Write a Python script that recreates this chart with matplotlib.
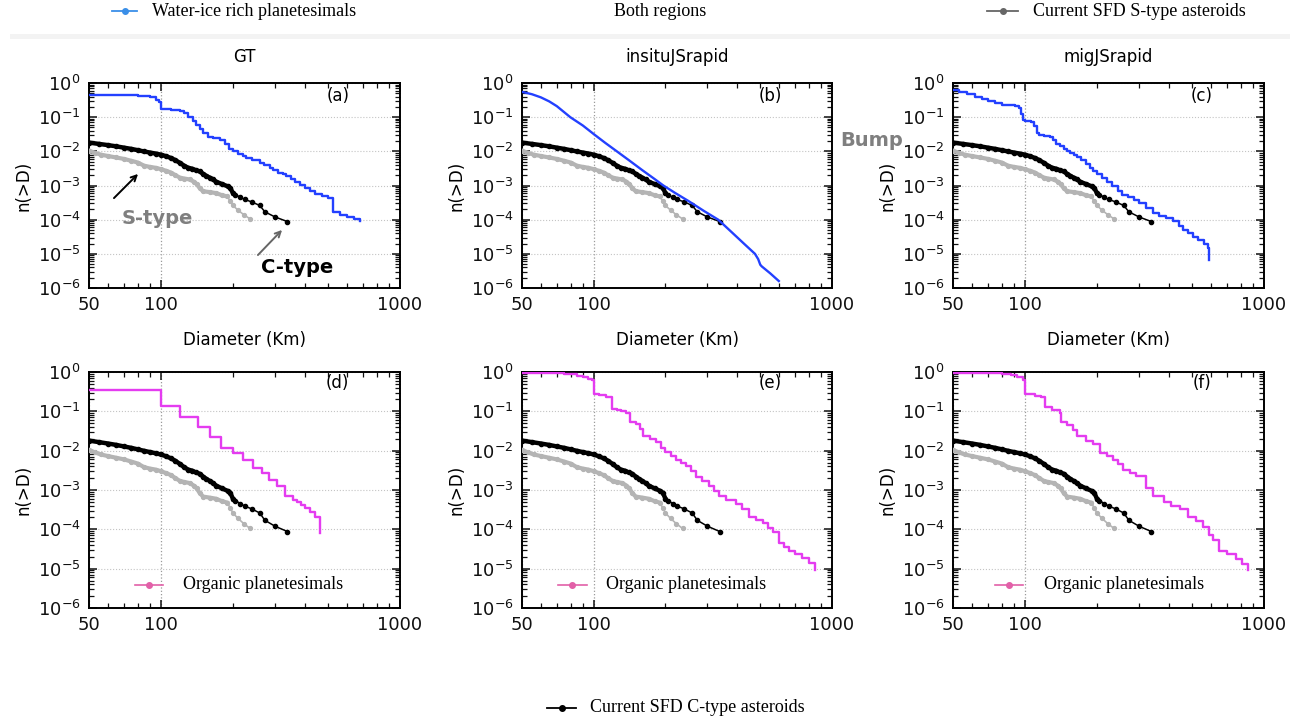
import numpy as np
import matplotlib.pyplot as plt
from matplotlib.lines import Line2D
from matplotlib.patches import Rectangle
from matplotlib.ticker import FixedLocator, FuncFormatter, NullFormatter, LogLocator

# ---- data ----
# Current SFD of C-type asteroids (same in every panel)
c_diam = [50, 55, 60, 65, 70, 75, 80, 85, 90, 95, 100, 105, 110, 115, 120, 125, 130, 135,
          140, 145, 150, 155, 160, 165, 170, 180, 190, 195, 200, 205, 215, 224, 240, 259,
          272, 300, 338]
c_n = [0.0180, 0.0165, 0.0152, 0.0140, 0.0128, 0.0118, 0.0108, 0.0099, 0.0092, 0.0086,
       0.0080, 0.0072, 0.0064, 0.0055, 0.0046, 0.0038, 0.0033, 0.0031, 0.0028, 0.0026,
       0.0022, 0.0019, 0.0017, 0.0015, 0.0013, 0.0011, 0.00095, 0.00085, 0.00060, 0.00054,
       0.00045, 0.00039, 0.00033, 0.00026, 0.00017, 0.00012, 0.000088]

# Current SFD of S-type asteroids
s_diam = [50, 53, 56, 60, 65, 70, 75, 80, 85, 90, 95, 100, 105, 110, 115, 120, 125, 132,
          137, 141, 145, 150, 160, 170, 180, 189, 195, 200, 210, 222, 236]
s_n = [0.0105, 0.0090, 0.0080, 0.0073, 0.0066, 0.0060, 0.0053, 0.0047, 0.0038, 0.0035,
       0.0033, 0.0030, 0.0027, 0.0024, 0.0020, 0.0017, 0.0016, 0.0015, 0.0013, 0.0011,
       0.00085, 0.00068, 0.00064, 0.00060, 0.00052, 0.00048, 0.00035, 0.00026, 0.00019,
       0.00014, 0.000105]

# water-ice rich planetesimals (top row)
gt_ice_diam = [50, 60, 70, 80, 86, 90, 95, 98, 100, 110, 120, 125, 130, 136, 140, 145, 150,
               157, 165, 176, 185, 193, 200, 210, 220, 227, 240, 259, 270, 285, 295, 310,
               325, 335, 350, 365, 380, 400, 420, 440, 470, 500, 526, 560, 600, 640, 681]
gt_ice_n = [0.46, 0.45, 0.44, 0.43, 0.41, 0.38, 0.32, 0.28, 0.17, 0.16, 0.15, 0.13, 0.10,
            0.076, 0.06, 0.045, 0.035, 0.026, 0.024, 0.021, 0.016, 0.012, 0.0105, 0.0085,
            0.0072, 0.0063, 0.0055, 0.0046, 0.0039, 0.0032, 0.0029, 0.0024, 0.0021, 0.0019,
            0.0016, 0.0013, 0.00105, 0.00085, 0.0007, 0.00058, 0.00050, 0.00043, 0.00017,
            0.00014, 0.00012, 0.000105, 0.000092]

insitu_ice_diam = [50, 55, 60, 65, 70, 79.7, 90, 100, 112, 125, 140, 160, 180, 196, 220,
                   250, 290, 333, 380, 430, 475, 490, 500, 507, 550, 598]
insitu_ice_n = [0.55, 0.47, 0.38, 0.29, 0.21, 0.10, 0.057, 0.032, 0.0175, 0.010, 0.0056,
                0.0028, 0.00155, 0.0010, 0.00060, 0.00035, 0.00018, 0.0001, 0.0000425,
                0.000019, 0.00001, 0.000007, 0.0000048, 0.0000043, 0.0000027, 0.0000016]

mig_ice_diam = [50, 53, 57, 62, 66, 70, 75, 80, 85, 91, 94, 96, 98, 100, 106, 109, 112, 115,
                120, 127, 131, 135, 140, 145, 150, 155, 160, 165, 172, 180, 187, 193, 200,
                210, 220, 232, 245, 255, 270, 285, 300, 320, 344, 365, 390, 417, 440, 460,
                480, 506, 530, 560, 585, 590]
mig_ice_n = [0.62, 0.55, 0.48, 0.40, 0.33, 0.30, 0.26, 0.23, 0.22, 0.21, 0.19, 0.12, 0.085,
             0.078, 0.072, 0.055, 0.035, 0.030, 0.029, 0.027, 0.021, 0.016, 0.014, 0.012,
             0.010, 0.0090, 0.0078, 0.0066, 0.0055, 0.0042, 0.0032, 0.0026, 0.0022, 0.0017,
             0.0013, 0.00095, 0.00068, 0.00054, 0.00045, 0.00037, 0.00030, 0.00022, 0.00016,
             0.00013, 0.00011, 0.000089, 0.000065, 0.00005, 0.00004, 0.000032, 0.000025,
             0.000019, 0.0000148, 0.0000067]

# organic planetesimals (bottom row)
gt_org_diam = [50, 100, 120, 143, 160, 178, 200, 220, 243, 264, 282, 305, 330, 358, 370,
               385, 400, 420, 440, 463, 463]
gt_org_n = [0.35, 0.14, 0.073, 0.039, 0.022, 0.012, 0.0087, 0.0059, 0.0036, 0.0027, 0.0018,
            0.00125, 0.0007, 0.00055, 0.0005, 0.00042, 0.00035, 0.00027, 0.0002, 0.000155,
            0.00008]

insitu_org_diam = [50, 65, 75, 85, 90, 95, 98, 100, 105, 113, 119, 125, 130, 137, 142, 151,
                   156, 161, 172, 183, 192, 200, 210, 221, 232, 243, 255, 269, 285, 306, 320,
                   337, 360, 395, 420, 450, 480, 512, 540, 563, 600, 630, 662, 700, 750, 800,
                   852]
insitu_org_n = [0.95, 0.92, 0.87, 0.80, 0.74, 0.68, 0.62, 0.28, 0.26, 0.23, 0.118, 0.11,
                0.10, 0.089, 0.055, 0.048, 0.035, 0.023, 0.020, 0.017, 0.012, 0.0095, 0.0075,
                0.0059, 0.0048, 0.0040, 0.0030, 0.0022, 0.0017, 0.00125, 0.00095, 0.0007,
                0.00055, 0.00043, 0.00032, 0.0002, 0.00017, 0.000148, 0.00011, 0.000086,
                0.000046, 0.000035, 0.000028, 0.000024, 0.000019, 0.000014, 0.0000095]

mig_org_diam = [50, 65, 80, 87, 93, 98, 100, 110, 117, 121, 130, 140, 142, 150, 159, 165,
                180, 193, 207, 220, 233, 245, 257, 275, 292, 322, 343, 380, 410, 444, 480,
                520, 558, 590, 612, 648, 700, 760, 810, 857]
mig_org_n = [0.95, 0.92, 0.88, 0.85, 0.75, 0.62, 0.28, 0.25, 0.23, 0.13, 0.11, 0.089,
             0.055, 0.045, 0.033, 0.023, 0.018, 0.015, 0.0088, 0.0072, 0.0059, 0.0045,
             0.0033, 0.0027, 0.0023, 0.00115, 0.0007, 0.00050, 0.00040, 0.00032, 0.00021,
             0.00016, 0.000115, 0.00007, 0.000054, 0.000028, 0.000023, 0.000018, 0.000013,
             0.000009]

titles = ["GT", "insituJSrapid", "migJSrapid"]
top_tags = ["(a)", "(b)", "(c)"]
bottom_tags = ["(d)", "(e)", "(f)"]

ICE = '#2340ff'
ORG = '#e43cf0'
SERIF = 'Liberation Serif'

W, H = 1307, 724
fig = plt.figure(figsize=(W / 100, H / 100), dpi=100)


def px_rect(left, top, right, bottom):
    return [left / W, 1 - bottom / H, (right - left) / W, (bottom - top) / H]


def style_axes(ax, tag, tag_y):
    ax.set_xscale('log')
    ax.set_yscale('log')
    ax.set_xlim(50, 1000)
    ax.set_ylim(1e-6, 1)
    ax.xaxis.set_major_locator(FixedLocator([50, 100, 1000]))
    ax.xaxis.set_minor_locator(FixedLocator([60, 70, 80, 90, 200, 300, 400, 500, 600, 700, 800, 900]))
    ax.xaxis.set_major_formatter(FuncFormatter(lambda v, p: f"{v:g}"))
    ax.xaxis.set_minor_formatter(NullFormatter())
    ax.yaxis.set_major_locator(LogLocator(base=10, numticks=10))
    ax.yaxis.set_minor_locator(LogLocator(base=10, subs=np.arange(2, 10), numticks=20))
    ax.yaxis.set_minor_formatter(NullFormatter())
    ax.tick_params(which='both', direction='in', top=True, right=True, colors='#111111',
                   labelsize=13)
    ax.tick_params(which='major', length=6, width=1.1, pad=6)
    ax.tick_params(which='minor', length=3.5, width=0.9)
    for s in ax.spines.values():
        s.set_linewidth(1.4)
    ax.grid(True, axis='y', which='major', ls=':', lw=0.8, color='#c4c4c4')
    ax.grid(True, axis='x', which='major', ls=':', lw=0.9, color='#9a9a9a')
    ax.set_ylabel('n(>D)', fontsize=12, labelpad=4)
    ax.text(0.80, tag_y, tag, transform=ax.transAxes, ha='center', va='center', fontsize=12)


c_d, c_v = np.array(c_diam), np.array(c_n)
s_d, s_v = np.array(s_diam), np.array(s_n)


def plot_asteroids(ax):
    # dense part of each curve looks like a thick band in the reference
    ax.plot(s_d, s_v, color='#b4b4b4', lw=1.2, marker='o', ms=2.8, zorder=3)
    ax.plot(s_d[s_d <= 189], s_v[s_d <= 189], color='#b4b4b4', lw=3, zorder=3)
    ax.plot(c_d, c_v, color='black', lw=1.1, marker='o', ms=3, zorder=4)
    ax.plot(c_d[c_d <= 200], c_v[c_d <= 200], color='black', lw=3.2, zorder=4)


lefts = [(89, 400), (522, 832), (953, 1264)]
ice = [(gt_ice_diam, gt_ice_n, 'steps-post'),
       (insitu_ice_diam, insitu_ice_n, 'default'),
       (mig_ice_diam, mig_ice_n, 'steps-post')]
org = [(gt_org_diam, gt_org_n), (insitu_org_diam, insitu_org_n), (mig_org_diam, mig_org_n)]
org_legend_x = [(0.148, 0.238, 0.302), (0.116, 0.209, 0.270), (0.135, 0.225, 0.293)]

for i in range(3):
    l, r = lefts[i]
    # top row: water-ice rich planetesimals
    ax = fig.add_axes(px_rect(l, 83, r, 288))
    style_axes(ax, top_tags[i], 0.935)
    plot_asteroids(ax)
    d, n, ds = ice[i]
    ax.plot(d, n, color=ICE, lw=1.7, drawstyle=ds, zorder=5)
    ax.set_title(titles[i], fontsize=12, pad=15)
    ax.set_xlabel('Diameter (Km)', fontsize=12, labelpad=12)
    if i == 0:
        ax.text(0.219, 0.341, 'S-type', transform=ax.transAxes, ha='center', va='center',
                fontsize=14, fontweight='bold', color='#7f7f7f')
        ax.annotate('', xy=(0.164, 0.566), xytext=(0.074, 0.429), xycoords='axes fraction',
                    arrowprops=dict(arrowstyle='->', color='black', lw=1.4))
        ax.text(0.669, 0.102, 'C-type', transform=ax.transAxes, ha='center', va='center',
                fontsize=14, fontweight='bold', color='black')
        ax.annotate('', xy=(0.627, 0.293), xytext=(0.537, 0.151), xycoords='axes fraction',
                    arrowprops=dict(arrowstyle='->', color='#666666', lw=1.4))

    # bottom row: organic planetesimals
    ax = fig.add_axes(px_rect(l, 372, r, 608))
    style_axes(ax, bottom_tags[i], 0.953)
    plot_asteroids(ax)
    d, n = org[i]
    ax.plot(d, n, color=ORG, lw=1.7, drawstyle='steps-post', zorder=5)
    x0, x1, xt = org_legend_x[i]
    ax.add_line(Line2D([x0, x1], [0.0975, 0.0975], transform=ax.transAxes, color='#e260a8', lw=1.2))
    ax.add_line(Line2D([(x0 + x1) / 2], [0.0975], transform=ax.transAxes, color='#e260a8',
                       marker='o', ms=4))
    ax.text(xt, 0.0975, 'Organic planetesimals', transform=ax.transAxes, va='center',
            ha='left', fontsize=13, family=SERIF)

fig.text(872 / W, 1 - 140 / H, 'Bump', ha='center', va='center', fontsize=14,
         fontweight='bold', color='#7f7f7f')


# figure-level legends
def fig_key(x0, x1, y, color, label, tx):
    fig.add_artist(Line2D([x0 / W, x1 / W], [1 - y / H, 1 - y / H], transform=fig.transFigure,
                          color=color, lw=1.3))
    fig.add_artist(Line2D([(x0 + x1) / 2 / W], [1 - y / H], transform=fig.transFigure,
                          color=color, marker='o', ms=4))
    fig.text(tx / W, 1 - y / H, label, ha='left', va='center', fontsize=13, family=SERIF)


fig_key(112, 137, 11, '#3a8fe8', 'Water-ice rich planetesimals', 152)
fig.text(660 / W, 1 - 11 / H, 'Both regions', ha='center', va='center', fontsize=13, family=SERIF)
fig_key(987, 1018, 11, '#666666', 'Current SFD S-type asteroids', 1033)
fig_key(547, 576, 708, 'black', 'Current SFD C-type asteroids', 590)

fig.add_artist(Rectangle((10 / W, 1 - 39 / H), 1280 / W, 5 / H, transform=fig.transFigure,
                         color='#f3f3f3', lw=0))

fig.savefig('out.png', dpi=100)
